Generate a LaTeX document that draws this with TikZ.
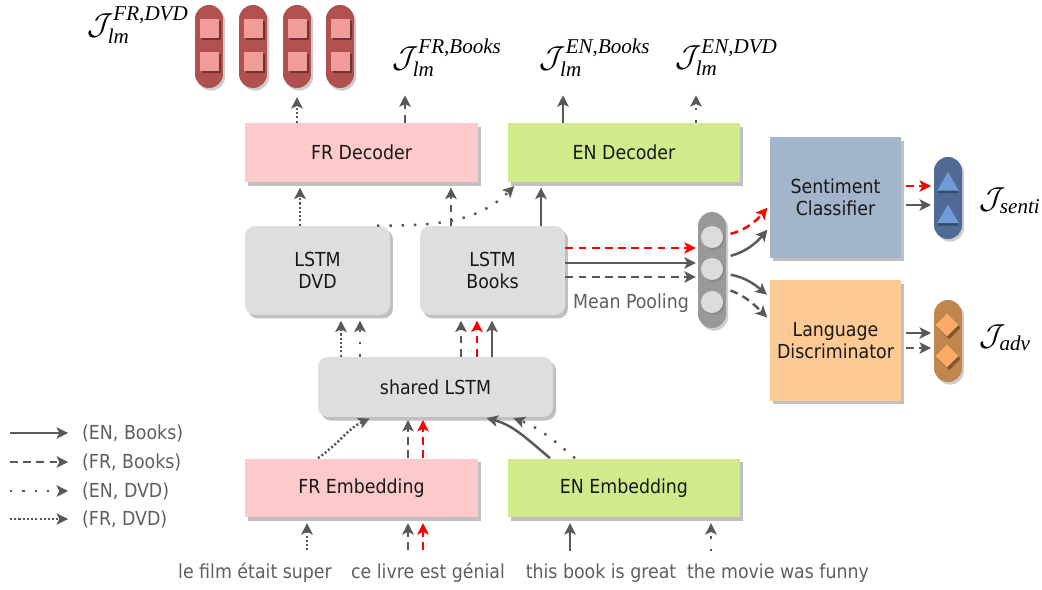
\documentclass[tikz,border=0pt]{standalone}
\usepackage{amsmath}
\usepackage{fontspec}
\setmainfont{DejaVu Sans Condensed}
\newfontfamily\lossfont{Liberation Serif}
\newcommand{\lossidx}[1]{\text{\lossfont\itshape #1}}
\usetikzlibrary{arrows.meta, shapes.geometric, shadows}
\definecolor{arrgray}{HTML}{595959}
\definecolor{txtgray}{HTML}{5E5E5E}
\definecolor{frpink}{HTML}{FCCACA}
\definecolor{engreen}{HTML}{D0EA8C}
\definecolor{lstmgray}{HTML}{DEDEDE}
\definecolor{sentblue}{HTML}{A2B5CA}
\definecolor{discorange}{HTML}{FDCA95}
\definecolor{shadowgray}{HTML}{C0C0C0}
\definecolor{dvdred}{HTML}{B0504F}
\definecolor{dvdsquare}{HTML}{F19C98}
\definecolor{poolgray}{HTML}{999999}
\definecolor{poolcircle}{HTML}{DCDCDC}
\definecolor{sentipillc}{HTML}{4F6A94}
\definecolor{sentitri}{HTML}{6F9BD8}
\definecolor{advpillc}{HTML}{C0864E}
\definecolor{advdiamond}{HTML}{FDAA66}
\tikzset{
	box/.style={inner sep=0pt, text=black!90, font=\fontsize{11}{12.5}\selectfont,
		general shadow={fill=shadowgray, shadow xshift=1.7pt, shadow yshift=-2pt}},
	frbox/.style={box, fill=frpink, minimum width=4.66cm, minimum height=1.18cm},
	enbox/.style={box, fill=engreen, minimum width=4.64cm, minimum height=1.18cm},
	lstmbox/.style={box, fill=lstmgray, rounded corners=0.2cm, align=center,
		minimum width=2.9cm, minimum height=1.78cm},
	clsbox/.style={box, align=center, minimum width=2.62cm, minimum height=2.42cm},
	pill/.style={inner sep=0pt, minimum width=0.56cm, rounded corners=0.279cm,
		general shadow={fill=shadowgray!80, shadow xshift=1.2pt, shadow yshift=-1.5pt}},
	square/.style={fill=dvdsquare, minimum size=0.38cm, inner sep=0pt,
		general shadow={fill=dvdred!65!black, shadow xshift=1.4pt, shadow yshift=-1.4pt}},
	poolcell/.style={circle, fill=poolcircle, minimum size=0.44cm, inner sep=0pt,
		general shadow={fill=black!45, shadow xshift=1.1pt, shadow yshift=-1.1pt}},
	sentimark/.style={regular polygon, regular polygon sides=3, fill=sentitri, minimum size=0.5cm,
		inner sep=0pt, general shadow={fill=sentipillc!70!black, shadow yshift=-1.4pt}},
	advmark/.style={diamond, fill=advdiamond, minimum size=0.46cm, inner sep=0pt,
		general shadow={fill=advpillc!65!black, shadow xshift=1.3pt, shadow yshift=-1.6pt}},
	conn/.style={line width=1.4pt, draw=arrgray,
		-{Stealth[length=6.5pt, width=6.5pt, inset=1.5pt]}, shorten >=3pt},
	enbooks/.style={conn},
	frbooks/.style={conn, dash pattern=on 4.5pt off 3pt},
	endvd/.style={conn, dash pattern=on 1.4pt off 5.6pt},
	frdvd/.style={conn, dash pattern=on 1.2pt off 1.2pt},
	hilite/.style={draw=red},
	words/.style={text=txtgray, font=\fontsize{11}{12.5}\selectfont, anchor=base},
	legend/.style={text=txtgray, font=\fontsize{11}{12.5}\selectfont, anchor=west},
	loss/.style={font=\LARGE, inner sep=1pt}
}

\begin{document}
\begin{tikzpicture}[x=0.02cm, y=-0.02cm]
	\useasboundingbox (0,0) rectangle (1042,590);

	% --- boxes ---
	\node[frbox] (frdec) at (361.5,152.5) {FR Decoder};
	\node[enbox] (endec) at (624,152.5) {EN Decoder};
	\node[lstmbox] (lstmdvd) at (317.5,270.5) {LSTM\\DVD};
	\node[lstmbox] (lstmbooks) at (492.5,270.5) {LSTM\\Books};
	\node[lstmbox, minimum width=4.7cm, minimum height=1.2cm] (shared) at (435.5,387) {shared LSTM};
	\node[frbox] (frembed) at (361.5,488) {FR Embedding};
	\node[enbox] (enembed) at (624,488) {EN Embedding};
	\node[clsbox, fill=sentblue] (senti) at (835.5,197.5) {Sentiment\\Classifier};
	\node[clsbox, fill=discorange] (disc) at (835.5,340.5) {Language\\Discriminator};

	% --- output pills ---
	\foreach \i/\x in {1/209,2/253,3/297,4/340} {
		\node[pill, fill=dvdred, minimum height=1.66cm] (dvdpill\i) at (\x,46.5) {};
		\node[square] (dvdsqa\i) at (\x,28.5) {};
		\node[square] (dvdsqb\i) at (\x,61.5) {};
	}
	\node[pill, fill=poolgray, minimum height=2.32cm] (pool) at (712,270) {};
	\foreach \i/\y in {1/237,2/269,3/302}
		\node[poolcell] (cell\i) at (712,\y) {};
	\node[pill, fill=sentipillc, minimum height=1.64cm] (sentipill) at (948,198) {};
	\node[sentimark] (tri1) at (948,184.5) {};
	\node[sentimark] (tri2) at (948,217) {};
	\node[pill, fill=advpillc, minimum height=1.64cm] (advpill) at (948,341) {};
	\node[advmark] (dia1) at (947,325) {};
	\node[advmark] (dia2) at (947,356) {};

	% --- losses ---
	\node[loss] (jfrdvd) at (138,25) {$\mathcal{J}^{\lossidx{FR,DVD}}_{\lossidx{lm}}$};
	\node[loss] (jfrbooks) at (447,57.5) {$\mathcal{J}^{\lossidx{FR,Books}}_{\lossidx{lm}}$};
	\node[loss] (jenbooks) at (595,57.5) {$\mathcal{J}^{\lossidx{EN,Books}}_{\lossidx{lm}}$};
	\node[loss] (jendvd) at (726.5,57.5) {$\mathcal{J}^{\lossidx{EN,DVD}}_{\lossidx{lm}}$};
	\node[loss] (jsenti) at (1010,200.5) {$\mathcal{J}_{\lossidx{senti}}$};
	\node[loss] (jadv) at (1005,337.5) {$\mathcal{J}_{\lossidx{adv}}$};
	\coordinate (frbooksout) at (405,90);
	\coordinate (enbooksout) at (563,90);
	\coordinate (endvdout) at (696,90);

	% --- inputs ---
	\node[words] (wfilm) at (255,579) {le film était super};
	\node[words] (wlivre) at (428,579) {ce livre est génial};
	\node[words] (wbook) at (601,579) {this book is great};
	\node[words] (wmovie) at (778,579) {the movie was funny};
	\node[text=txtgray, font=\fontsize{11}{12.5}\selectfont] (meanpool) at (631,303) {Mean Pooling};

	% words -> embeddings
	\draw[frdvd, shorten <=4pt] (wfilm.north -| 307,0) -- (frembed.south -| 307,0);
	\draw[frbooks, shorten <=4pt] (wlivre.north -| 408,0) -- (frembed.south -| 408,0);
	\draw[frbooks, hilite, shorten <=4pt] (wlivre.north -| 423,0) -- (frembed.south -| 423,0);
	\draw[enbooks, shorten <=4pt] (wbook.north -| 570,0) -- (enembed.south -| 570,0);
	\draw[endvd, shorten <=4pt] (wmovie.north -| 711,0) -- (enembed.south -| 711,0);

	% embeddings -> shared LSTM
	\draw[frdvd, shorten >=1.5pt] (frembed.north -| 318,0) to[out=35,in=205] (shared.south -| 372,0);
	\draw[frbooks, shorten >=1.5pt] (frembed.north -| 408,0) -- (shared.south -| 408,0);
	\draw[frbooks, hilite, shorten >=1.5pt] (frembed.north -| 423,0) -- (shared.south -| 423,0);
	\draw[enbooks, shorten >=1.5pt] (enembed.north -| 550,0) to[out=140,in=-15] (shared.south -| 484,0);
	\draw[endvd, shorten >=1.5pt] (enembed.north -| 575,0) to[out=140,in=-20] (shared.south -| 511,0);

	% shared LSTM -> domain LSTMs
	\draw[frdvd] (shared.north -| 341,0) -- (lstmdvd.south -| 341,0);
	\draw[endvd] (shared.north -| 360,0) -- (lstmdvd.south -| 360,0);
	\draw[frbooks] (shared.north -| 461,0) -- (lstmbooks.south -| 461,0);
	\draw[frbooks, hilite] (shared.north -| 477,0) -- (lstmbooks.south -| 477,0);
	\draw[enbooks] (shared.north -| 492,0) -- (lstmbooks.south -| 492,0);

	% domain LSTMs -> decoders
	\draw[frdvd] (lstmdvd.north -| 300,0) -- (frdec.south -| 300,0);
	\draw[frbooks] (lstmbooks.north -| 451,0) -- (frdec.south -| 451,0);
	\draw[enbooks] (lstmbooks.north -| 541,0) -- (endec.south -| 541,0);
	\draw[endvd] (lstmdvd.north -| 377,0) to[out=0,in=225] (endec.south -| 518,0);

	% decoders -> losses
	\draw[frdvd, shorten >=5pt] (frdec.north -| dvdpill3) -- (dvdpill3.south);
	\draw[frbooks] (frdec.north -| frbooksout) -- (frbooksout);
	\draw[enbooks] (endec.north -| enbooksout) -- (enbooksout);
	\draw[endvd] (endec.north -| endvdout) -- (endvdout);

	% LSTM Books -> mean pooling
	\draw[frbooks, hilite, shorten >=1pt] (lstmbooks.east |- 0,248) -- (pool.west |- 0,248);
	\draw[enbooks, shorten >=1pt] (lstmbooks.east |- 0,263) -- (pool.west |- 0,263);
	\draw[frbooks, shorten >=1pt] (lstmbooks.east |- 0,277) -- (pool.west |- 0,277);

	% mean pooling -> classifier / discriminator
	\draw[frbooks, hilite, shorten <=2.5pt, shorten >=2pt] (pool.east |- 0,235) to[out=15,in=230] (senti.west |- 0,205);
	\draw[enbooks, shorten <=2.5pt, shorten >=2pt] (pool.east |- 0,257) to[out=15,in=230] (senti.west |- 0,227);
	\draw[enbooks, shorten <=2.5pt, shorten >=2pt] (pool.east |- 0,274) to[out=-10,in=140] (disc.west |- 0,297);
	\draw[frbooks, shorten <=2.5pt, shorten >=2pt] (pool.east |- 0,289) to[out=-20,in=135] (disc.west |- 0,320);

	% classifier / discriminator -> losses
	\draw[frbooks, hilite, shorten <=2.5pt, shorten >=1.5pt] (senti.east |- 0,186) -- (sentipill.west |- 0,186);
	\draw[enbooks, shorten <=2.5pt, shorten >=1.5pt] (senti.east |- 0,205) -- (sentipill.west |- 0,205);
	\draw[enbooks, shorten <=2.5pt, shorten >=1.5pt] (disc.east |- 0,333) -- (advpill.west |- 0,333);
	\draw[frbooks, shorten <=2.5pt, shorten >=1.5pt] (disc.east |- 0,348) -- (advpill.west |- 0,348);

	% --- legend ---
	\foreach \sty/\txt/\y [count=\i] in {enbooks/{(EN, Books)}/433, frbooks/{(FR, Books)}/462,
			endvd/{(EN, DVD)}/491, frdvd/{(FR, DVD)}/519} {
		\node[legend] (leg\i) at (76,\y) {\txt};
		\coordinate (legstart\i) at (10,\y);
		\draw[\sty, shorten >=4.5pt] (legstart\i) -- (leg\i.west);
	}
\end{tikzpicture}
\end{document}
